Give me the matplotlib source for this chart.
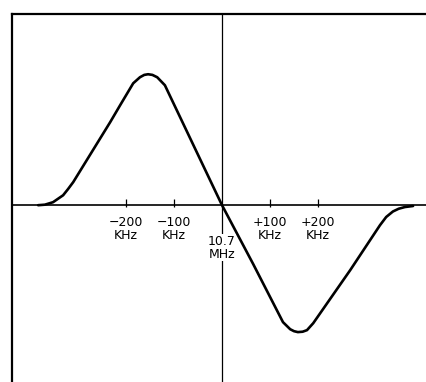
import numpy as np
import matplotlib.pyplot as plt

# Discriminator S-curve, frequency offset from 10.7 MHz (kHz) vs relative output
freq_khz = [-383, -369, -352, -331, -321, -310, -233, -212, -185, -171, -162,
            -154, -145, -135, -119, 0, 65, 127, 142, 150, 158, 168, 177, 190,
            267, 329, 342, 356, 368, 381, 398]
output = [0.0, 0.004, 0.023, 0.076, 0.122, 0.176, 0.634, 0.765, 0.931, 0.977,
          0.995, 1.0, 0.995, 0.977, 0.916, 0.0, -0.45, -0.893, -0.947, -0.962,
          -0.969, -0.966, -0.954, -0.901, -0.496, -0.153, -0.09, -0.048,
          -0.027, -0.014, -0.006]

tick_khz = [-200, -100, 100, 200]
tick_labels = ['\u2212200\nKHz', '\u2212100\nKHz', '+100\nKHz', '+200\nKHz']
center_label = '10.7\nMHz'

xlim = (-437.5, 427.0)
ylim = (-1.35, 1.46)

fig = plt.figure(figsize=(4.27, 3.82), dpi=100)
ax = fig.add_axes([12 / 427, 0, 1 - 12 / 427, 1 - 14 / 382])

ax.plot(freq_khz, output, color='black', lw=1.9, solid_capstyle='round',
        solid_joinstyle='round')

# axes through the centre
ax.axhline(0, color='black', lw=1.2)
ax.axvline(0, color='black', lw=0.9)

# small tick marks and labels along the frequency axis
ax.vlines(tick_khz, -0.015, 0.05, color='black', lw=0.9)
for x, lab in zip(tick_khz, tick_labels):
    ax.text(x, -0.08, lab, ha='center', va='top', fontsize=9,
            linespacing=1.0)
ax.text(0, -0.225, center_label, ha='center', va='top', fontsize=9,
        linespacing=1.0,
        bbox=dict(facecolor='white', edgecolor='none', pad=0.2))

ax.set_xlim(*xlim)
ax.set_ylim(*ylim)
ax.set_xticks([])
ax.set_yticks([])
for s in ['right', 'bottom']:
    ax.spines[s].set_visible(False)
for s in ['left', 'top']:
    ax.spines[s].set_linewidth(1.6)

plt.savefig('out.png', dpi=100)
plt.close()
